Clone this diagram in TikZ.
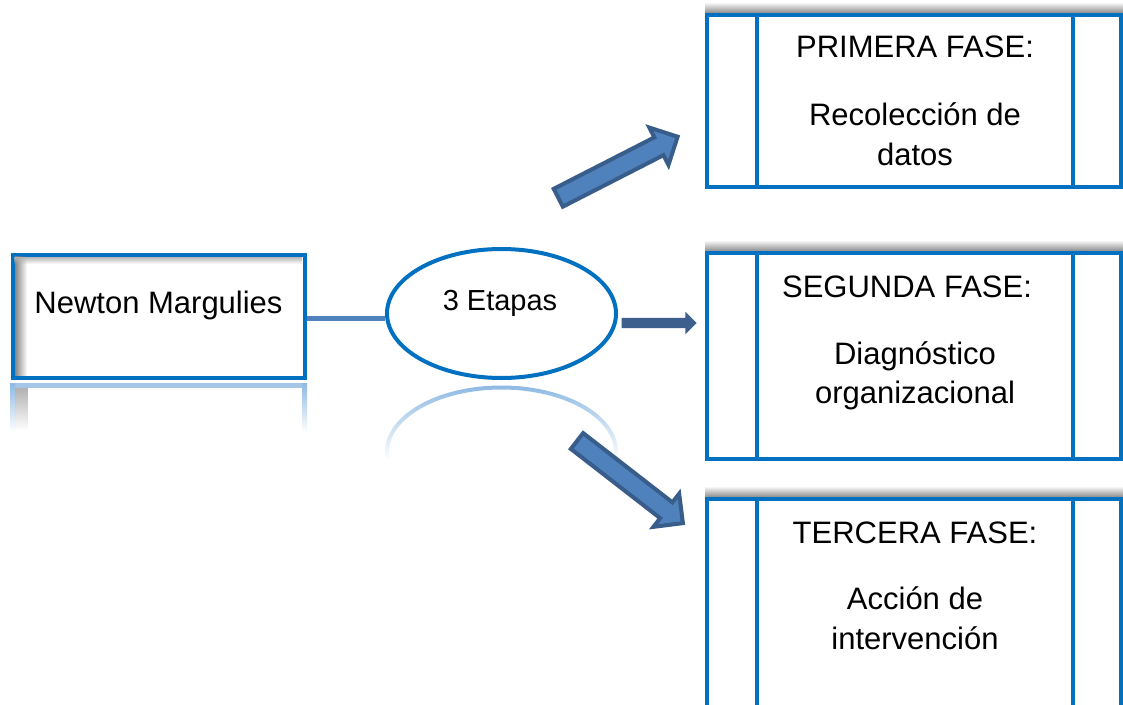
\documentclass[tikz,border=0pt]{standalone}
\usepackage{fontspec}
\setmainfont{Liberation Sans}
\usetikzlibrary{shapes.geometric,shapes.arrows,fadings}

\definecolor{boxblue}{HTML}{0070C0}
\definecolor{linkblue}{HTML}{4F81BD}
\definecolor{arrowfill}{HTML}{4F81BD}
\definecolor{arrowedge}{HTML}{385D8A}
\definecolor{flatarrow}{HTML}{3C5F8E}
\definecolor{mirrorblue}{HTML}{8DB9E3}

\tikzfading[name=fadein, top color=transparent!100, bottom color=transparent!0]
\tikzfading[name=fadeout, top color=transparent!0, bottom color=transparent!100]
\tikzfading[name=fromleft, left color=transparent!0, right color=transparent!100]

\begin{document}
\begin{tikzpicture}[x=1pt, y=-1pt,
  outline/.style={draw=boxblue, line width=4pt},
  phase/.style={outline, rectangle, inner sep=0pt, minimum width=414pt},
  lbl/.style={font=\fontsize{31}{37}\selectfont, inner sep=0pt, anchor=base},
  link/.style={draw=linkblue, line width=5pt},
  blockarrow/.style={single arrow, fill=arrowfill, draw=arrowedge, line width=4pt,
    single arrow tip angle=90, inner xsep=0pt, inner ysep=8pt,
    single arrow head extend=11pt, minimum height=134pt},
  flatblock/.style={single arrow, fill=flatarrow, inner xsep=0pt, inner ysep=5pt,
    single arrow tip angle=90, single arrow head extend=6pt, minimum height=75pt},
  topshadow/.style={top color=white, bottom color=black!45}
]
\clip (0,0) rectangle (1123,704);
\fill[white] (0,0) rectangle (1123,704);

% soft shadows along the top edges of the phase boxes
\shade[topshadow] (705,2) rectangle (1123,13);
\shade[topshadow] (705,240) rectangle (1123,251);
\shade[topshadow] (705,486) rectangle (1123,497);

% phase boxes with their two inner dividers
\node[phase, minimum height=172pt] (f1) at (914,101) {};
\node[phase, minimum height=206pt] (f2) at (914,356) {};
\node[phase, minimum height=221pt] (f3) at (914,609.5) {};
\foreach \b in {f1,f2,f3}{
  \draw[outline] (\b.north west) ++(52pt,0) -- ([xshift=52pt]\b.south west);
  \draw[outline] (\b.north east) ++(-50pt,0) -- ([xshift=-50pt]\b.south east);
}

% mirrored image below the left box
\fill[mirrorblue!80] (10,383) rectangle (307,388);
\shade[top color=mirrorblue, bottom color=white] (10,383) rectangle (15,432);
\shade[top color=mirrorblue, bottom color=white] (302,383) rectangle (307,432);
\fill[black!30, path fading=fadeout] (15,388) rectangle (28,430);

% mirrored image below the ellipse
\begin{scope}
  \clip (380,384) rectangle (625,458);
  \draw[mirrorblue, line width=4pt] (501.5,452) ellipse [x radius=114.5, y radius=64.5];
\end{scope}
\fill[white, path fading=fadein] (380,384) rectangle (625,460);

% left box with inner shading
\node[outline, rectangle, inner sep=0pt, minimum width=292pt, minimum height=123pt,
  fill=white] (nm) at (158.5,316) {};
\fill[black!50, path fading=fromleft] (14.5,256.5) rectangle (27,375.5);
\fill[black!30, path fading=fadeout] (14.5,256.5) rectangle (302.5,264);

% central ellipse
\node[outline, ellipse, inner sep=0pt, minimum width=229pt, minimum height=129pt,
  fill=white] (etapas) at (501.5,313.5) {};

% connector from the box to the ellipse
\draw[link] ([yshift=-2pt]nm.east) -- ([yshift=-2pt]nm.east -| etapas.west);

% block arrows towards the phases
\node[blockarrow, rotate=27.1] (a1) at (613.5,169.5) {};
\node[flatblock] (a2) at (656.5,323) {};
\node[blockarrow, rotate=-37.8] (a3) at (626,479) {};

% texts
\node[lbl] (nmtext) at (158.5,313) {Newton Margulies};
\node[lbl, font=\fontsize{29}{35}\selectfont] (ettext) at (500,310) {3 Etapas};

\node[lbl] (t1) at (915,57) {PRIMERA FASE:};
\node[lbl] (t1a) at (915,125) {Recolección de};
\node[lbl] (t1b) at (915,165) {datos};

\node[lbl] (t2) at (907,297) {SEGUNDA FASE:};
\node[lbl] (t2a) at (915,364) {Diagnóstico};
\node[lbl] (t2b) at (915,403) {organizacional};

\node[lbl] (t3) at (915,543) {TERCERA FASE:};
\node[lbl] (t3a) at (915,609) {Acción de};
\node[lbl] (t3b) at (915,649) {intervención};
\end{tikzpicture}
\end{document}
